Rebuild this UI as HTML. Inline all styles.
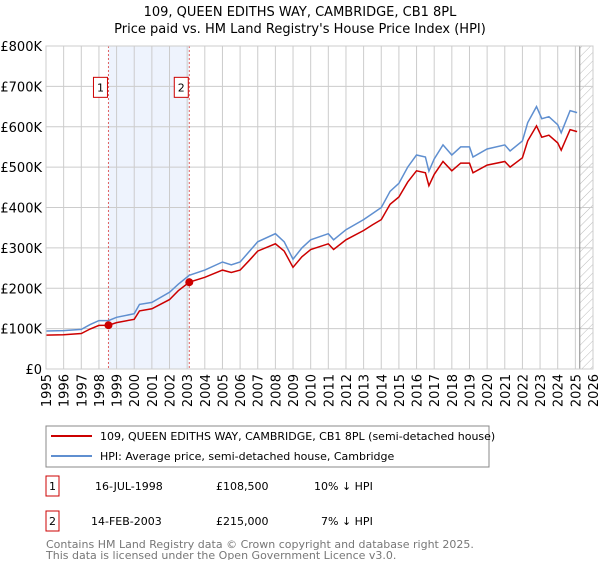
<!DOCTYPE html>
<html><head><meta charset="utf-8"><style>
body{margin:0;background:#fff;font-family:"Liberation Sans","DejaVu Sans",sans-serif;}
svg text{font-family:"DejaVu Sans","Liberation Sans",sans-serif;}
</style></head><body>
<svg id="c" width="600" height="560" xmlns="http://www.w3.org/2000/svg">
<defs><pattern id="hatch" patternUnits="userSpaceOnUse" width="6" height="6" patternTransform="rotate(45)"><line x1="0" y1="0" x2="0" y2="6" stroke="#bbb" stroke-width="1"/></pattern></defs>
<text x="300" y="16" text-anchor="middle" font-size="13">109, QUEEN EDITHS WAY, CAMBRIDGE, CB1 8PL</text>
<text x="300" y="33" text-anchor="middle" font-size="13">Price paid vs. HM Land Registry's House Price Index (HPI)</text>
<g id="plot"></g>
<rect x="46" y="426" width="443" height="41" fill="#fff" stroke="#888"/>
<line x1="51" y1="436" x2="92" y2="436" stroke="#cc0000" stroke-width="2"/>
<text x="100" y="440" font-size="11">109, QUEEN EDITHS WAY, CAMBRIDGE, CB1 8PL (semi-detached house)</text>
<line x1="51" y1="456" x2="92" y2="456" stroke="#5f8fd0" stroke-width="2"/>
<text x="100" y="460" font-size="11">HPI: Average price, semi-detached house, Cambridge</text>
<g>
<rect x="46" y="476" width="13" height="20" fill="#fff" stroke="#cc0000"/><text x="52.5" y="490" font-size="11" text-anchor="middle">1</text>
<text x="95" y="490" font-size="11">16-JUL-1998</text><text x="216" y="490" font-size="11">£108,500</text><text x="314" y="490" font-size="11">10% ↓ HPI</text></g>
<g>
<rect x="46" y="511" width="13" height="20" fill="#fff" stroke="#cc0000"/><text x="52.5" y="525" font-size="11" text-anchor="middle">2</text>
<text x="91" y="525" font-size="11">14-FEB-2003</text><text x="216" y="525" font-size="11">£215,000</text><text x="321" y="525" font-size="11">7% ↓ HPI</text></g>
<text x="46" y="548" font-size="11" fill="#777">Contains HM Land Registry data © Crown copyright and database right 2025.</text>
<text x="46" y="559" font-size="11" fill="#777">This data is licensed under the Open Government Licence v3.0.</text>
</svg>
<script>
const hpiYears=[1995,1996,1997,1997.5,1998,1998.54,1999,2000,2000.3,2001,2002,2002.5,2003.12,2004,2005,2005.5,2006,2006.5,2007,2008,2008.5,2009,2009.5,2010,2011,2011.3,2012,2013,2013.5,2014,2014.5,2015,2015.5,2016,2016.5,2016.7,2017,2017.5,2018,2018.5,2019,2019.2,2020,2021,2021.3,2022,2022.3,2022.8,2023.1,2023.5,2024,2024.2,2024.7,2025.1];
const hpiValues=[94,95,98,110,120,120,128,137,160,165,190,210,232,245,265,258,265,290,315,335,315,272,300,320,335,320,345,370,385,400,440,460,500,530,525,490,520,555,530,550,550,525,545,555,540,565,610,650,620,625,605,585,640,635];
const priceValues=[84,85,88,99,108,108.5,115,123,144,149,172,194,215,227,245,239,245,268,292,310,292,252,278,296,310,296,320,343,357,370,408,426,463,491,486,454,482,514,491,510,510,486,505,514,500,523,565,602,574,579,560,542,593,588];
const sales=[{year:1998.54,value:108.5,label:"1"},{year:2003.12,value:215,label:"2"}];
const yTicks=[0,100,200,300,400,500,600,700,800];
const yTickLabels=["£0","£100K","£200K","£300K","£400K","£500K","£600K","£700K","£800K"];
const xTicks=[1995,1996,1997,1998,1999,2000,2001,2002,2003,2004,2005,2006,2007,2008,2009,2010,2011,2012,2013,2014,2015,2016,2017,2018,2019,2020,2021,2022,2023,2024,2025,2026];
const X0=46,X1=593,Y0=369,Y1=46;
const xs=y=>X0+(y-1995)/(2026-1995)*(X1-X0);
const ys=v=>Y0-v/800*(Y0-Y1);
const NS="http://www.w3.org/2000/svg";
const g=document.getElementById('plot');
function mk(t,a){const e=document.createElementNS(NS,t);for(const k in a)e.setAttribute(k,a[k]);g.appendChild(e);return e;}
let e=mk('rect',{x:xs(1998.54),y:Y1,width:xs(2003.12)-xs(1998.54),height:Y0-Y1,fill:'#eef3fd'});


e=mk('rect',{x:xs(2025.25),y:Y1,width:X1-xs(2025.25),height:Y0-Y1,fill:'url(#hatch)'});


yTicks.forEach((t,i)=>{
 e=mk('line',{x1:X0,x2:X1,y1:ys(t),y2:ys(t),stroke:'#ccc'});
 
 
 e=mk('text',{x:X0-4,y:ys(t)+5,'text-anchor':'end','font-size':13});
 e.textContent=yTickLabels[i];
 
 
});
xTicks.forEach(t=>{
 e=mk('line',{x1:xs(t),x2:xs(t),y1:Y1,y2:Y0,stroke:'#ccc'});
 
 
 e=mk('text',{x:xs(t)+5,y:Y0+5,'text-anchor':'end','font-size':13,transform:`rotate(-90 ${xs(t)+5} ${Y0+5})`});
 e.textContent=t;
 
 
});
e=mk('line',{x1:xs(2025.25),x2:xs(2025.25),y1:Y1,y2:Y0,stroke:'#888'});


sales.forEach(s=>{
 e=mk('line',{x1:xs(s.year),x2:xs(s.year),y1:Y1,y2:Y0,stroke:'#e06060','stroke-dasharray':'2,2'});
 
 
});
const pts=a=>hpiYears.map((y,i)=>xs(y).toFixed(1)+','+ys(a[i]).toFixed(1)).join(' ');
e=mk('polyline',{points:pts(hpiValues),fill:'none',stroke:'#5f8fd0','stroke-width':1.5});


e=mk('polyline',{points:pts(priceValues),fill:'none',stroke:'#cc0000','stroke-width':1.5});


sales.forEach(s=>{
 e=mk('circle',{cx:xs(s.year),cy:ys(s.value),r:4,fill:'#cc0000'});
 
 
 e=mk('rect',{x:xs(s.year)-15,y:ys(710)-5,width:14,height:20,fill:'#fff',stroke:'#cc0000'});
 
 
 e=mk('text',{x:xs(s.year)-8,y:ys(710)+9,'text-anchor':'middle','font-size':11});
 e.textContent=s.label;
 
 
});
e=mk('rect',{x:X0,y:Y1,width:X1-X0,height:Y0-Y1,fill:'none',stroke:'#ccc'});


</script>
</body></html>
